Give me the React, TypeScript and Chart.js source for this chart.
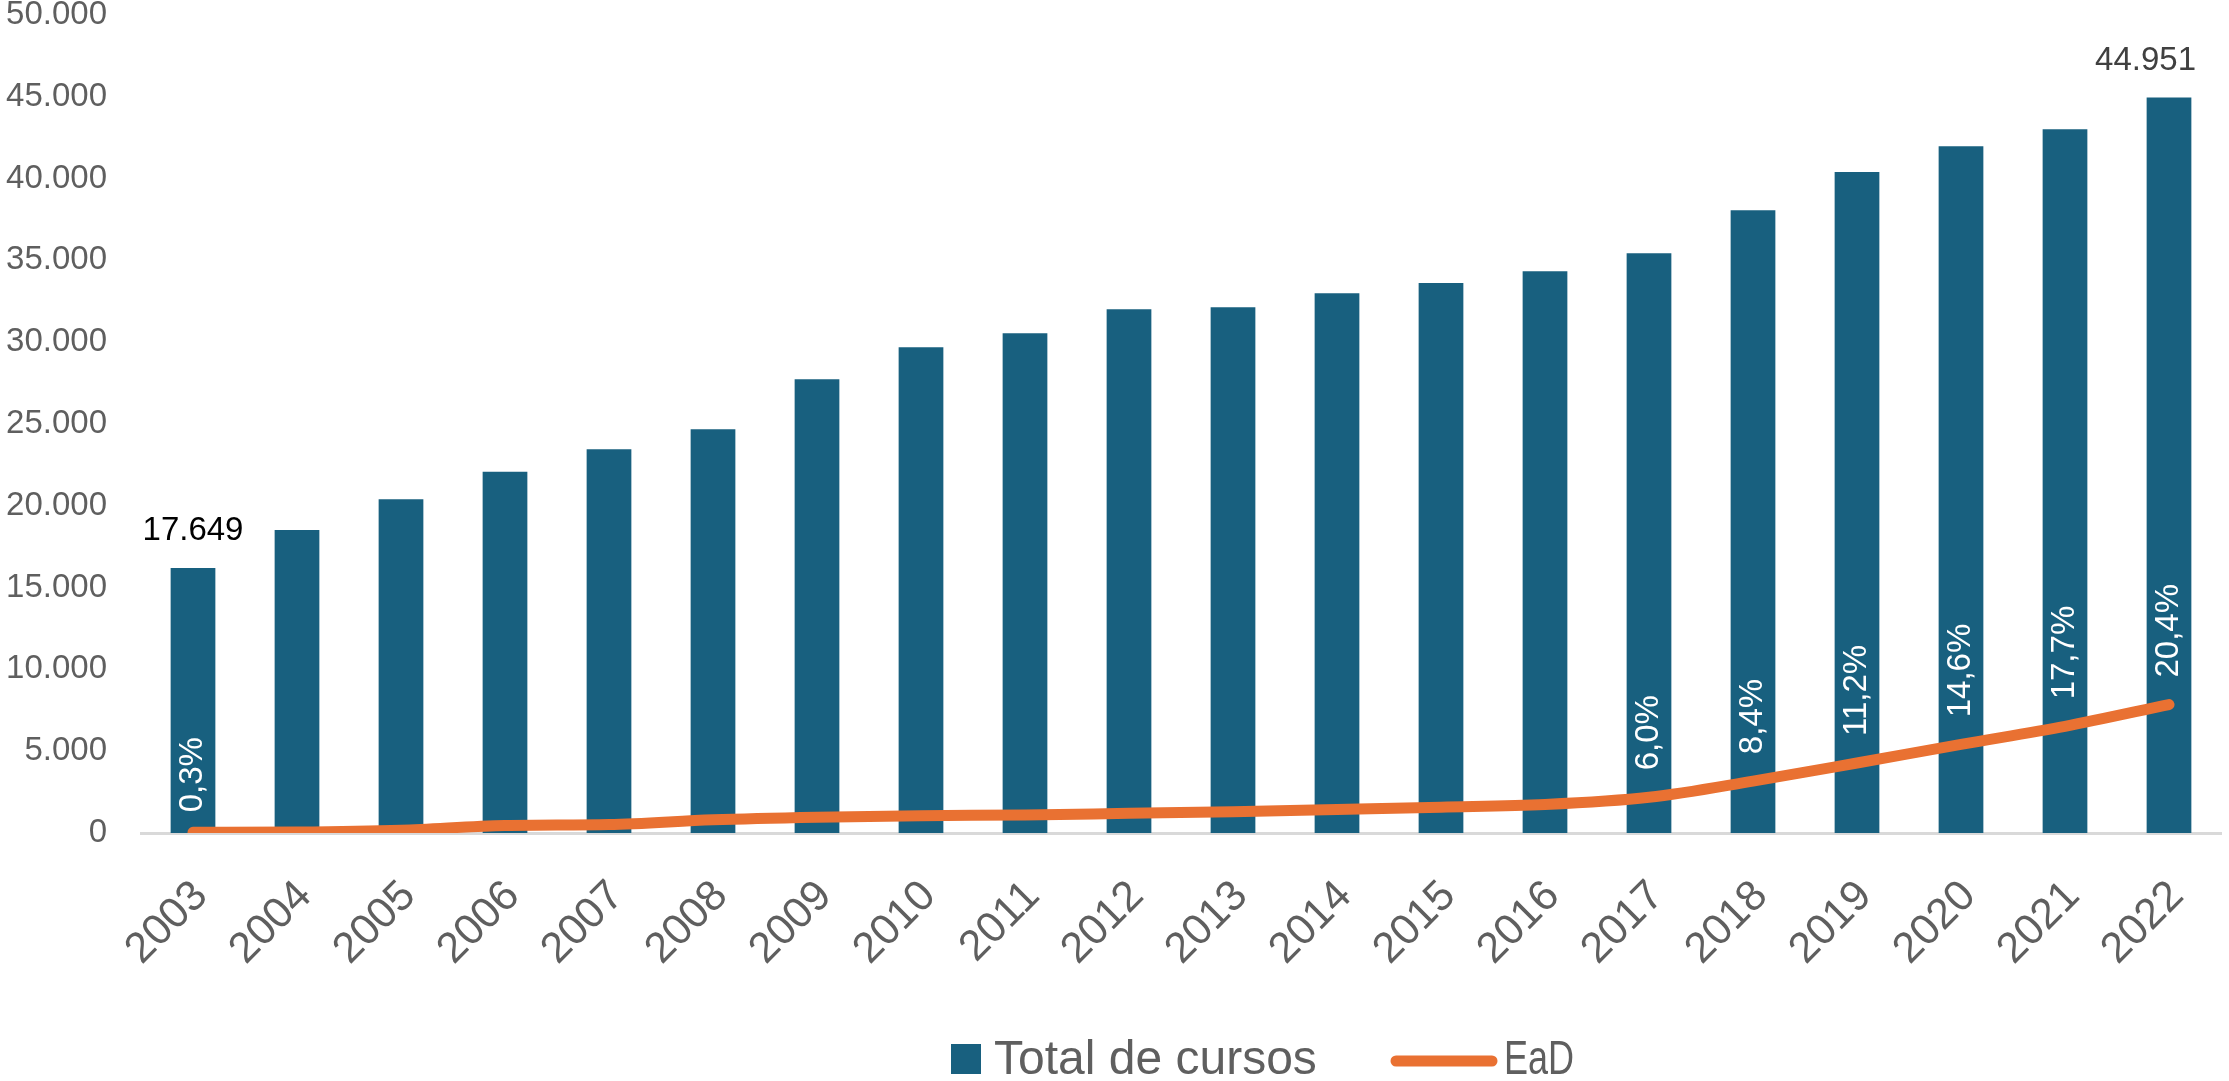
import React, { useEffect, useRef } from 'react';
import { Chart, registerables } from 'chart.js';

Chart.register(...registerables);

const years = ['2003', '2004', '2005', '2006', '2007', '2008', '2009', '2010', '2011', '2012', '2013', '2014', '2015', '2016', '2017', '2018', '2019', '2020', '2021', '2022'];
const totalCursos = [16200, 18520, 20400, 22080, 23450, 24680, 27730, 29690, 30540, 32010, 32130, 32990, 33620, 34330, 35430, 38060, 40400, 41970, 43010, 44951];
const eadCursos = [40, 60, 170, 460, 520, 810, 970, 1060, 1100, 1200, 1300, 1440, 1580, 1740, 2180, 3170, 4280, 5420, 6520, 7850];
const eadShareLabels: (string | null)[] = ['0,3%', null, null, null, null, null, null, null, null, null, null, null, null, null, '6,0%', '8,4%', '11,2%', '14,6%', '17,7%', '20,4%'];
const totalValueLabels: (string | null)[] = ['17.649', null, null, null, null, null, null, null, null, null, null, null, null, null, null, null, null, null, null, '44.951'];
const yMin = 0;
const yMax = 50000;
const yStep = 5000;
const seriesNames = ['Total de cursos', 'EaD'];

const BAR_COLOR = '#18607F';
const LINE_COLOR = '#E97132';
const AXIS_TEXT = '#5f5f5f';
const FONT = "'Liberation Sans', Arial, sans-serif";

const fmtThousands = (v: number) => String(v).replace(/\B(?=(\d{3})+(?!\d))/g, '.');

const labelsPlugin = {
  id: 'customLabels',
  afterDatasetsDraw(chart: any) {
    const ctx = chart.ctx;
    const lineMeta = chart.getDatasetMeta(0);
    const barMeta = chart.getDatasetMeta(1);
    ctx.save();
    // percentage labels, rotated, above the line points
    ctx.fillStyle = '#ffffff';
    ctx.font = `33px ${FONT}`;
    ctx.textAlign = 'left';
    ctx.textBaseline = 'middle';
    eadShareLabels.forEach((txt, i) => {
      if (!txt) return;
      const p = lineMeta.data[i];
      ctx.save();
      ctx.translate(p.x, p.y - (i === 0 ? 20 : 27));
      ctx.rotate(-Math.PI / 2);
      ctx.fillText(txt, 0, 0);
      ctx.restore();
    });
    // value labels above bars (kept inside the plot width)
    ctx.font = `33px ${FONT}`;
    ctx.textBaseline = 'alphabetic';
    ctx.textAlign = 'center';
    totalValueLabels.forEach((txt, i) => {
      if (!txt) return;
      const b = barMeta.data[i];
      const w = ctx.measureText(txt).width;
      const x = Math.min(b.x, chart.chartArea.right - 25 - w / 2);
      ctx.fillStyle = i === 0 ? '#000000' : '#404040';
      ctx.fillText(txt, x, b.y - 28);
    });
    ctx.restore();
  },
  afterDraw(chart: any) {
    const ctx = chart.ctx;
    ctx.save();
    const cy = 1059;
    // bar legend item
    ctx.fillStyle = BAR_COLOR;
    ctx.fillRect(951, cy - 15, 30, 30);
    ctx.fillStyle = AXIS_TEXT;
    ctx.font = `48px ${FONT}`;
    ctx.textAlign = 'left';
    ctx.textBaseline = 'middle';
    ctx.fillText(seriesNames[0], 994, cy + 2);
    // line legend item
    ctx.strokeStyle = LINE_COLOR;
    ctx.lineWidth = 11;
    ctx.lineCap = 'round';
    ctx.beginPath();
    ctx.moveTo(1396, cy + 2);
    ctx.lineTo(1492, cy + 2);
    ctx.stroke();
    ctx.save();
    ctx.translate(1504, cy + 2);
    ctx.scale(0.75, 1);
    ctx.fillText(seriesNames[1], 0, 0);
    ctx.restore();
    ctx.restore();
  },
};

export default function App() {
  const canvasRef = useRef<HTMLCanvasElement | null>(null);

  useEffect(() => {
    if (!canvasRef.current) return;
    const chart = new Chart(canvasRef.current, {
      type: 'bar',
      data: {
        labels: years,
        datasets: [
          {
            type: 'line',
            label: seriesNames[1],
            data: eadCursos,
            borderColor: LINE_COLOR,
            backgroundColor: LINE_COLOR,
            borderWidth: 11,
            borderCapStyle: 'round',
            borderJoinStyle: 'round',
            pointRadius: 0,
            cubicInterpolationMode: 'monotone',
            order: 0,
          } as any,
          {
            type: 'bar',
            label: seriesNames[0],
            data: totalCursos,
            backgroundColor: BAR_COLOR,
            borderWidth: 0,
            barPercentage: 0.43,
            categoryPercentage: 1,
            order: 1,
          },
        ],
      },
      options: {
        responsive: false,
        animation: false,
        devicePixelRatio: 1,
        layout: { padding: { top: 15, right: 8, left: 0, bottom: 0 } },
        plugins: {
          legend: { display: false },
          tooltip: { enabled: false },
        },
        scales: {
          x: {
            grid: { display: false, drawTicks: false },
            border: { display: true, color: '#d9d9d9', width: 3 },
            ticks: {
              color: AXIS_TEXT,
              font: { family: FONT, size: 43 },
              minRotation: 45,
              maxRotation: 45,
              padding: 38,
              labelOffset: 8,
              autoSkip: false,
            },
            afterFit: (s: any) => {
              s.height = 248;
              s.paddingLeft = 0;
              s.paddingRight = 0;
            },
          },
          y: {
            min: yMin,
            max: yMax,
            grid: { display: false, drawTicks: false },
            border: { display: false },
            ticks: {
              stepSize: yStep,
              color: AXIS_TEXT,
              font: { family: FONT, size: 33, lineHeight: 1 },
              padding: 34,
              callback: (v: any) => fmtThousands(Number(v)),
            },
            afterFit: (s: any) => {
              s.width = 141;
              s.paddingTop = 0;
              s.paddingBottom = 0;
            },
          },
        },
      },
      plugins: [labelsPlugin],
    });
    return () => chart.destroy();
  }, []);

  return (
    <div style={{ position: 'fixed', left: 0, top: 0, width: '2229px', height: '1081px', background: '#ffffff' }}>
      <canvas ref={canvasRef} width={2229} height={1081} style={{ display: 'block' }} />
    </div>
  );
}
